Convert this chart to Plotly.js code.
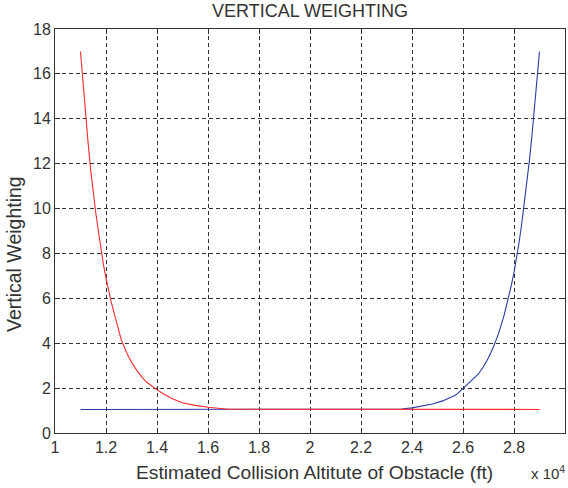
<!DOCTYPE html>
<html><head><meta charset="utf-8">
<script src="https://cdn.plot.ly/plotly-3.0.1.min.js"></script>
<style>html,body{margin:0;padding:0;background:#fff}#chart{width:568px;height:488px}</style>
</head><body><div id="chart"></div>
<script>
// Altitude in feet
const redX = [11000,11100,11200,11300,11400,11500,11600,11700,11800,11900,12000,12200,12400,12600,12800,13000,13200,13400,13600,13800,14000,14300,14600,15000,15500,16000,16400,16800,29000];
const redY = [17.0,15.5,14.1,12.9,11.7,10.7,9.8,9.0,8.2,7.5,6.9,5.85,5.0,4.15,3.6,3.15,2.8,2.5,2.26,2.07,1.92,1.72,1.53,1.35,1.23,1.15,1.1,1.06,1.05];
const blueX = [11000,23300,23600,24000,24400,24800,25200,25500,25700,25800,26000,26200,26400,26600,26800,27000,27200,27400,27600,27800,27900,28000,28100,28200,28300,28400,28500,28600,28700,28800,28900,29000];
const blueY = [1.05,1.05,1.07,1.12,1.2,1.29,1.43,1.58,1.68,1.78,1.98,2.18,2.38,2.62,2.95,3.35,3.85,4.45,5.2,6.1,6.6,7.15,7.8,8.5,9.3,10.2,11.1,12.1,13.2,14.4,15.7,17.0];
const xTickVals = [10000,12000,14000,16000,18000,20000,22000,24000,26000,28000,30000];
const xTickText = ["1","1.2","1.4","1.6","1.8","2","2.2","2.4","2.6","2.8","3"];
const yTickVals = [0,2,4,6,8,10,12,14,16,18];

const FONT = "Liberation Sans, Arial, Helvetica, sans-serif";
const traces = [
  {x: blueX, y: blueY, type: 'scatter', mode: 'lines', line: {color: '#2a3aa6', width: 1.1}, hoverinfo: 'skip'},
  {x: redX, y: redY, type: 'scatter', mode: 'lines', line: {color: '#ff2a2a', width: 1.1}, hoverinfo: 'skip'}
];
const axisCommon = {
  showline: true, mirror: 'ticks', linecolor: '#333', linewidth: 1,
  ticks: 'inside', ticklen: 5, tickcolor: '#333', tickwidth: 1,
  showgrid: true, gridcolor: '#333', gridwidth: 1, griddash: '4px,3px',
  zeroline: false, tickfont: {family: FONT, size: 16, color: '#333'}
};
const layout = {
  width: 568, height: 488,
  margin: {l: 55, r: 3, t: 29, b: 55},
  paper_bgcolor: '#fff', plot_bgcolor: '#fff',
  showlegend: false,
  xaxis: Object.assign({}, axisCommon, {range: [10000, 30000], tickmode: 'array', tickvals: xTickVals, ticktext: xTickText}),
  yaxis: Object.assign({}, axisCommon, {range: [0, 18], tickmode: 'array', tickvals: yTickVals, ticktext: yTickVals.map(String)}),
  annotations: [
    {text: 'VERTICAL WEIGHTING', xref: 'paper', yref: 'paper', x: 0.5, y: 1, xanchor: 'center', yanchor: 'bottom', yshift: 6, showarrow: false, font: {family: FONT, size: 18, color: '#333'}},
    {text: 'Estimated Collision Altitute of Obstacle (ft)', xref: 'paper', yref: 'paper', x: 0.508, y: 0, xanchor: 'center', yanchor: 'top', yshift: -27, showarrow: false, font: {family: FONT, size: 19.2, color: '#333'}},
    {text: 'Vertical Weighting', xref: 'paper', yref: 'paper', x: 0, y: 0.443, xanchor: 'center', yanchor: 'middle', xshift: -41, textangle: -90, showarrow: false, font: {family: FONT, size: 19.5, color: '#333'}},
    {text: 'x 10<sup>4</sup>', xref: 'paper', yref: 'paper', x: 1, y: 0, xanchor: 'right', yanchor: 'top', xshift: 2, yshift: -28, showarrow: false, font: {family: FONT, size: 15, color: '#333'}}
  ]
};
Plotly.newPlot('chart', traces, layout, {staticPlot: true, displayModeBar: false});
</script>
</body></html>
